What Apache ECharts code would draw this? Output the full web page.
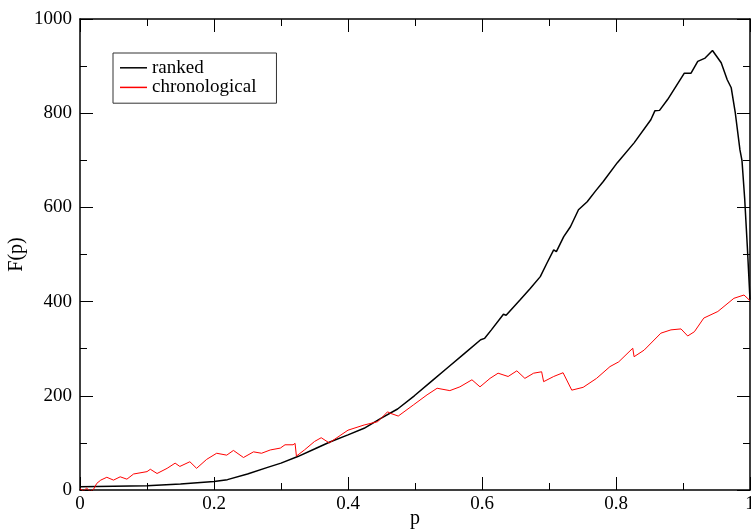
<!DOCTYPE html>
<html>
<head>
<meta charset="utf-8">
<script src="https://cdn.jsdelivr.net/npm/echarts@6/dist/echarts.min.js"></script>
<style>
  html, body { margin: 0; padding: 0; background: #fff; }
  #chart { width: 751px; height: 529px; }
</style>
</head>
<body>
<div id="chart"></div>
<script>
// ranked curve (black)
const pRanked = [0, 0.05, 0.1, 0.15, 0.2, 0.22, 0.25, 0.28, 0.3, 0.325, 0.35, 0.373, 0.4, 0.424, 0.449,
  0.474, 0.499, 0.524, 0.549, 0.574, 0.598, 0.604, 0.614, 0.632, 0.636, 0.657, 0.672, 0.687,
  0.697, 0.707, 0.711, 0.722, 0.732, 0.744, 0.757, 0.769, 0.781, 0.802, 0.827, 0.852, 0.858, 0.865,
  0.877, 0.902, 0.912, 0.922, 0.933, 0.944, 0.957, 0.966, 0.972, 0.978, 0.985, 0.988, 0.992, 0.996, 1.0]
const fRanked = [7, 8, 9, 13, 18, 22, 34, 48, 57, 71, 87, 102, 117, 131, 152,
  172, 200, 230, 260, 290, 319, 322, 340, 373, 371, 404, 428, 453,
  482, 510, 506, 538, 559, 595, 612, 634, 655, 695, 737, 786, 805, 806,
  829, 885, 885, 910, 917, 933, 907, 871, 854, 801, 722, 700, 620, 517, 404]

// chronological curve (red)
const pChrono = [0, 0.005, 0.01, 0.015, 0.02, 0.025, 0.031, 0.04, 0.05, 0.06, 0.07, 0.08, 0.1, 0.105,
  0.115, 0.13, 0.142, 0.149, 0.164, 0.174, 0.189, 0.204, 0.219, 0.229, 0.244, 0.259, 0.271, 0.284,
  0.299, 0.306, 0.318, 0.321, 0.323, 0.335, 0.35, 0.36, 0.372, 0.4, 0.424, 0.444, 0.448, 0.459, 0.463,
  0.475, 0.498, 0.518, 0.533, 0.552, 0.567, 0.585, 0.597, 0.612, 0.624, 0.639, 0.652, 0.664, 0.677,
  0.689, 0.692, 0.707, 0.721, 0.734, 0.751, 0.771, 0.791, 0.804, 0.825, 0.827, 0.842, 0.867, 0.882,
  0.897, 0.907, 0.917, 0.931, 0.952, 0.976, 0.991, 1.0]
const fChrono = [3, -2, 4, -3, 1, 14, 21, 27, 21, 28, 23, 34, 39, 44,
  35, 46, 57, 50, 60, 46, 65, 78, 74, 84, 69, 81, 78, 85,
  89, 96, 96, 99, 72, 85, 103, 111, 100, 127, 138, 145, 150, 166, 163,
  157, 181, 202, 216, 211, 219, 234, 219, 237, 248, 241, 253, 237, 248,
  251, 230, 241, 249, 212, 218, 237, 262, 272, 301, 283, 297, 333, 340,
  342, 327, 336, 365, 379, 407, 414, 402]

const xTicks = { min: 0, max: 1, interval: 0.2 }
const yTicks = { min: 0, max: 1000, interval: 200 }

const FONT = 'Liberation Serif'
const lineBlack = { color: '#000', width: 1.5 }

function xAxisOf(position, showLabel) {
  return {
    type: 'value',
    position: position,
    min: xTicks.min,
    max: xTicks.max,
    interval: xTicks.interval,
    name: showLabel ? 'p' : '',
    nameLocation: 'middle',
    nameGap: 19,
    nameMoveOverlap: false,
    nameTextStyle: { fontFamily: FONT, fontSize: 20, color: '#000' },
    axisLine: { show: true, onZero: false, lineStyle: lineBlack },
    axisTick: { show: true, inside: true, length: 13, lineStyle: { color: '#000', width: 1 } },
    minorTick: { show: true, splitNumber: 2, length: 7, lineStyle: { color: '#000', width: 1 } },
    splitLine: { show: false },
    axisLabel: {
      show: showLabel,
      margin: 5,
      fontFamily: FONT,
      fontSize: 19,
      color: '#000',
      showMinLabel: true,
      showMaxLabel: true,
      formatter: (v) => String(v)
    }
  }
}

function yAxisOf(position, showLabel) {
  return {
    type: 'value',
    position: position,
    min: yTicks.min,
    max: yTicks.max,
    interval: yTicks.interval,
    name: showLabel ? 'F(p)' : '',
    nameLocation: 'middle',
    nameGap: 53,
    nameMoveOverlap: false,
    nameTextStyle: { fontFamily: FONT, fontSize: 20, color: '#000' },
    axisLine: { show: true, onZero: false, lineStyle: lineBlack },
    axisTick: { show: true, inside: true, length: 13, lineStyle: { color: '#000', width: 1 } },
    minorTick: { show: true, splitNumber: 2, length: 7, lineStyle: { color: '#000', width: 1 } },
    splitLine: { show: false },
    axisLabel: {
      show: showLabel,
      margin: 8,
      fontFamily: FONT,
      fontSize: 19,
      color: '#000',
      formatter: (v) => String(v)
    }
  }
}

const chart = echarts.init(document.getElementById('chart'), null, { renderer: 'canvas' })

chart.setOption({
  animation: false,
  backgroundColor: '#fff',
  textStyle: { fontFamily: FONT },
  grid: { left: 80, top: 19, width: 670, height: 471, containLabel: false, outerBoundsMode: 'none' },
  legend: {
    orient: 'vertical',
    left: 113,
    top: 53,
    padding: [5, 20, 6, 7],
    borderColor: '#333',
    borderWidth: 1,
    itemGap: 0,
    itemWidth: 27,
    itemHeight: 1.5,
    itemTextGap: 13,
    icon: 'rect',
    textStyle: { fontFamily: FONT, fontSize: 19, color: '#000', lineHeight: 19.6 },
    data: ['ranked', 'chronological']
  },
  xAxis: [xAxisOf('bottom', true), xAxisOf('top', false)],
  yAxis: [yAxisOf('left', true), yAxisOf('right', false)],
  series: [
    {
      name: 'ranked',
      type: 'line',
      showSymbol: false,
      color: '#000',
      lineStyle: { width: 1.5, color: '#000' },
      data: pRanked.map((p, i) => [p, fRanked[i]])
    },
    {
      name: 'chronological',
      type: 'line',
      showSymbol: false,
      color: '#ff0000',
      lineStyle: { width: 1, color: '#ff0000' },
      data: pChrono.map((p, i) => [p, fChrono[i]])
    }
  ]
})
</script>
</body>
</html>
